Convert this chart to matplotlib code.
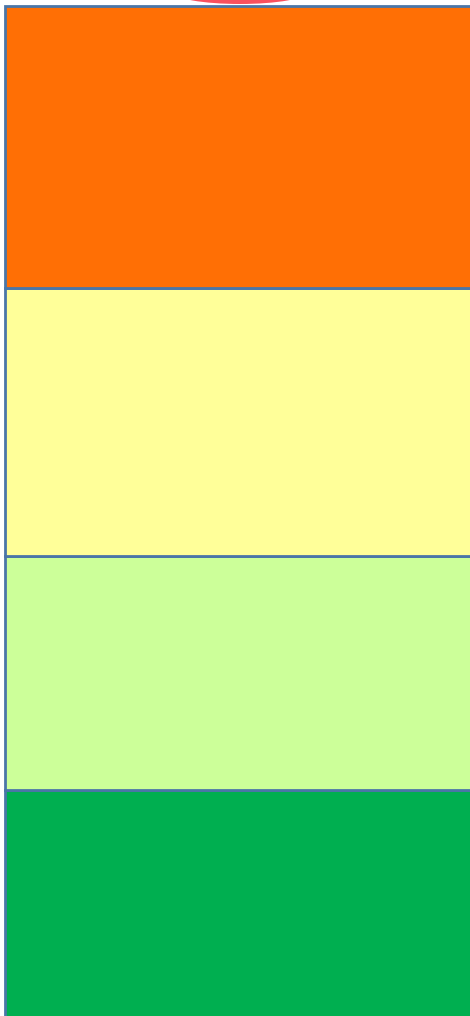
import matplotlib.pyplot as plt
from matplotlib.patches import Ellipse

# zone bands, bottom to top (heights in chart units)
zones = ['Green', 'Light green', 'Yellow', 'Orange']
heights = [236, 234, 268, 282]
colors = ['#00AF50', '#CCFF99', '#FFFF99', '#FF6F05']
base = -10

# marker peeking in above the top band
marker_x = 240
marker_y = 1024

fig = plt.figure(figsize=(4.7, 10.16), dpi=100)
ax = fig.add_axes([0, 0, 1, 1])

bottom = base
for name, h, c in zip(zones, heights, colors):
    ax.bar(4.5, h, width=520, bottom=bottom, align='edge', color=c,
           edgecolor='#4A76A8', linewidth=2, label=name)
    bottom += h

ax.add_patch(Ellipse((marker_x, marker_y), 134, 24, facecolor='#F9505E',
                     edgecolor='none', zorder=0))

ax.set_xlim(0, 470)
ax.set_ylim(0, 1016)
ax.axis('off')

fig.savefig('out.png', dpi=100)
